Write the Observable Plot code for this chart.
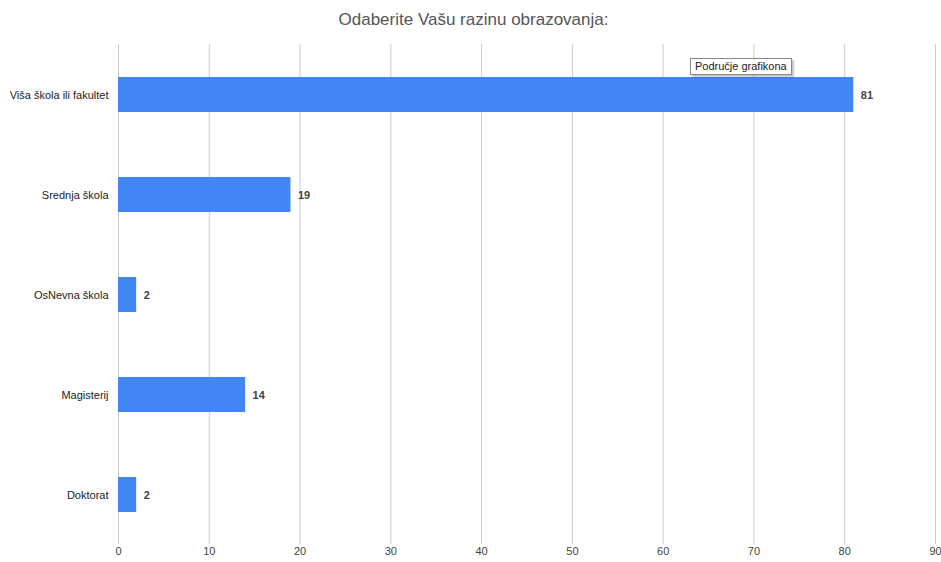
<!DOCTYPE html>
<html>
<head>
<meta charset="utf-8">
<script src="https://cdn.jsdelivr.net/npm/d3@7"></script>
<script src="https://cdn.jsdelivr.net/npm/@observablehq/plot@0.6"></script>
<style>
  html, body { margin: 0; padding: 0; background: #fff; }
  body { width: 941px; height: 562px; position: relative; overflow: hidden; font-family: "Liberation Sans", Arial, sans-serif; }
  #title { height: 38px; line-height: 40px; text-align: center; font-size: 17px; color: #555; padding-left: 6px; }
  #tip { position: absolute; left: 690px; top: 58px; font-size: 11px; color: #222; background: #fff;
         border: 1px solid #8a8a8a; padding: 1px 4px 2px 4px; box-shadow: 2px 2px 2px rgba(0,0,0,0.25); white-space: nowrap; }
</style>
</head>
<body>
<div id="title">Odaberite Vašu razinu obrazovanja:</div>
<div id="chart"></div>
<div id="tip">Područje grafikona</div>
<script>
const categories = ["Viša škola ili fakultet", "Srednja škola", "OsNevna škola", "Magisterij", "Doktorat"];
const values = [81, 19, 2, 14, 2];
const xTicks = [0, 10, 20, 30, 40, 50, 60, 70, 80, 90];

const data = categories.map((c, i) => ({category: c, value: values[i]}));

const chart = Plot.plot({
  width: 941,
  height: 524,
  marginLeft: 118,
  marginRight: 6,
  marginTop: 6,
  marginBottom: 18,
  style: {fontFamily: "'Liberation Sans', Arial, sans-serif", fontSize: "11px", color: "#222", background: "#fff", overflow: "visible"},
  x: {domain: [0, 90], ticks: xTicks, label: null},
  y: {domain: categories, paddingInner: 0.65, paddingOuter: 0.325, label: null},
  marks: [
    Plot.gridX(xTicks, {stroke: "#cccccc", strokeOpacity: 1}),
    Plot.barX(data, {x: "value", y: "category", fill: "#4285f4"}),
    Plot.text(data, {x: "value", y: "category", text: d => String(d.value), dx: 7, textAnchor: "start", fill: "#444", fontWeight: "bold", fontSize: 11}),
    Plot.axisX({ticks: xTicks, tickSize: 0, tickPadding: 3, fill: "#444", label: null, fontSize: 11}),
    Plot.axisY({tickSize: 0, tickPadding: 10, fill: "#222", label: null, fontSize: 11})
  ]
});
document.getElementById("chart").appendChild(chart);
</script>
</body>
</html>
